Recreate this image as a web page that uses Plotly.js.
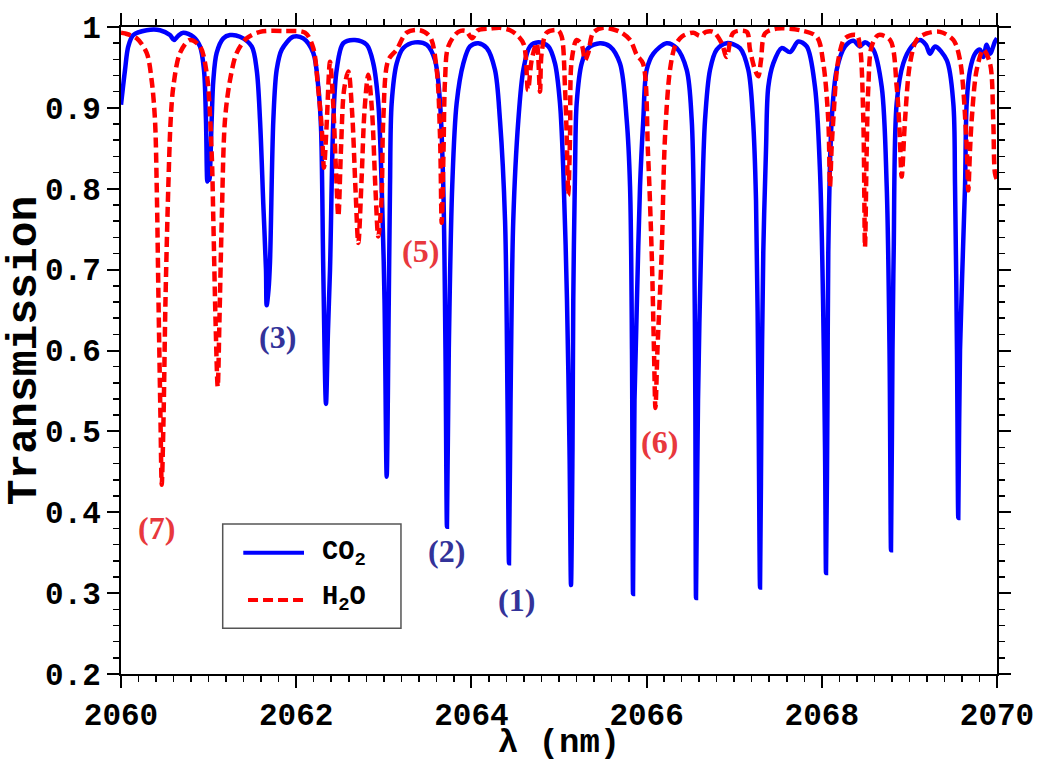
<!DOCTYPE html>
<html><head><meta charset="utf-8">
<script src="https://cdn.plot.ly/plotly-3.0.1.min.js"></script>
<style>
html,body{margin:0;padding:0;background:#fff;}
#chart{width:1037px;height:762px;}
</style>
</head><body><div id="chart"></div>
<script>
const co2_wl = [2060.000,2060.046,2060.083,2060.140,2060.293,2060.445,2060.559,2060.605,2060.651,2060.711,2060.825,2060.902,2060.947,2060.970,2060.985,2060.999,2061.010,2061.035,2061.054,2061.092,2061.168,2061.244,2061.358,2061.492,2061.549,2061.587,2061.624,2061.655,2061.663,2061.684,2061.701,2061.739,2061.777,2061.835,2061.967,2062.081,2062.195,2062.252,2062.283,2062.309,2062.340,2062.363,2062.386,2062.424,2062.462,2062.538,2062.671,2062.805,2062.880,2062.937,2062.976,2063.008,2063.033,2063.057,2063.071,2063.090,2063.147,2063.223,2063.356,2063.490,2063.584,2063.642,2063.679,2063.704,2063.721,2063.742,2063.781,2063.832,2063.908,2063.984,2064.079,2064.175,2064.269,2064.326,2064.384,2064.412,2064.429,2064.447,2064.478,2064.536,2064.593,2064.669,2064.764,2064.878,2064.954,2065.011,2065.049,2065.091,2065.120,2065.137,2065.154,2065.163,2065.183,2065.202,2065.259,2065.334,2065.468,2065.582,2065.696,2065.773,2065.811,2065.833,2065.845,2065.862,2065.890,2065.925,2065.962,2066.001,2066.077,2066.229,2066.343,2066.458,2066.515,2066.541,2066.556,2066.564,2066.587,2066.629,2066.667,2066.724,2066.800,2066.914,2067.066,2067.161,2067.215,2067.249,2067.277,2067.295,2067.312,2067.332,2067.363,2067.389,2067.446,2067.542,2067.637,2067.732,2067.828,2067.922,2067.979,2068.014,2068.037,2068.048,2068.065,2068.074,2068.113,2068.170,2068.265,2068.360,2068.436,2068.493,2068.588,2068.684,2068.741,2068.773,2068.790,2068.807,2068.821,2068.855,2068.930,2069.026,2069.121,2069.189,2069.235,2069.292,2069.426,2069.501,2069.521,2069.543,2069.558,2069.578,2069.635,2069.654,2069.692,2069.749,2069.806,2069.844,2069.882,2069.920,2069.977,2070.000];
const co2_T = [0.904,0.947,0.976,0.990,0.996,0.996,0.990,0.984,0.989,0.993,0.988,0.976,0.947,0.885,0.809,0.829,0.811,0.885,0.934,0.968,0.986,0.990,0.988,0.976,0.947,0.885,0.782,0.700,0.656,0.675,0.710,0.885,0.947,0.972,0.988,0.986,0.968,0.926,0.876,0.700,0.534,0.625,0.700,0.885,0.947,0.980,0.984,0.978,0.955,0.906,0.803,0.663,0.444,0.663,0.803,0.906,0.955,0.974,0.981,0.978,0.959,0.906,0.803,0.601,0.382,0.601,0.803,0.906,0.955,0.976,0.980,0.974,0.947,0.885,0.761,0.539,0.337,0.539,0.761,0.885,0.947,0.976,0.981,0.976,0.955,0.906,0.823,0.663,0.477,0.310,0.477,0.663,0.823,0.906,0.955,0.974,0.980,0.976,0.955,0.885,0.803,0.601,0.299,0.539,0.663,0.803,0.885,0.947,0.967,0.980,0.974,0.947,0.885,0.761,0.539,0.294,0.539,0.761,0.885,0.947,0.972,0.980,0.974,0.947,0.885,0.786,0.539,0.307,0.539,0.721,0.848,0.926,0.955,0.974,0.969,0.982,0.976,0.926,0.823,0.663,0.477,0.325,0.539,0.721,0.885,0.947,0.976,0.983,0.976,0.981,0.972,0.926,0.803,0.601,0.353,0.601,0.724,0.906,0.955,0.976,0.984,0.978,0.967,0.976,0.959,0.906,0.803,0.601,0.393,0.601,0.803,0.906,0.947,0.967,0.972,0.963,0.978,0.967,0.982,0.986];

const h2o_wl = [2060.000,2060.046,2060.179,2060.293,2060.350,2060.388,2060.408,2060.428,2060.451,2060.465,2060.485,2060.508,2060.540,2060.567,2060.597,2060.674,2060.788,2060.902,2060.978,2061.035,2061.054,2061.079,2061.104,2061.124,2061.150,2061.187,2061.244,2061.321,2061.435,2061.587,2061.872,2062.100,2062.192,2062.249,2062.291,2062.317,2062.346,2062.386,2062.420,2062.454,2062.481,2062.511,2062.546,2062.595,2062.637,2062.677,2062.709,2062.746,2062.780,2062.823,2062.865,2062.905,2062.937,2062.974,2062.994,2063.051,2063.147,2063.261,2063.413,2063.527,2063.604,2063.642,2063.661,2063.682,2063.699,2063.736,2063.851,2063.938,2064.007,2064.075,2064.212,2064.326,2064.441,2064.532,2064.600,2064.646,2064.688,2064.745,2064.783,2064.802,2064.860,2064.989,2065.031,2065.068,2065.088,2065.106,2065.126,2065.145,2065.202,2065.259,2065.297,2065.334,2065.391,2065.506,2065.696,2065.811,2065.890,2065.959,2066.016,2066.058,2066.084,2066.101,2066.124,2066.172,2066.210,2066.267,2066.324,2066.401,2066.533,2066.610,2066.678,2066.762,2066.857,2066.914,2066.990,2067.142,2067.180,2067.237,2067.275,2067.306,2067.352,2067.486,2067.751,2067.942,2068.017,2068.074,2068.094,2068.111,2068.131,2068.188,2068.265,2068.398,2068.436,2068.474,2068.493,2068.512,2068.531,2068.569,2068.645,2068.779,2068.855,2068.887,2068.912,2068.950,2069.007,2069.083,2069.197,2069.349,2069.501,2069.578,2069.654,2069.672,2069.692,2069.711,2069.768,2069.844,2069.920,2069.957,2069.977,2070.000];
const h2o_T = [0.993,0.992,0.986,0.968,0.934,0.885,0.802,0.663,0.514,0.434,0.514,0.663,0.802,0.885,0.926,0.968,0.984,0.976,0.943,0.844,0.761,0.638,0.555,0.638,0.761,0.885,0.934,0.968,0.986,0.994,0.995,0.993,0.975,0.926,0.876,0.826,0.876,0.957,0.910,0.823,0.766,0.848,0.922,0.945,0.897,0.799,0.733,0.811,0.897,0.941,0.897,0.799,0.741,0.786,0.885,0.959,0.972,0.993,0.996,0.988,0.947,0.864,0.758,0.848,0.934,0.976,0.994,0.995,0.986,0.996,0.998,0.999,0.996,0.989,0.978,0.922,0.959,0.980,0.920,0.968,0.993,0.996,0.988,0.926,0.864,0.792,0.864,0.959,0.984,0.978,0.959,0.968,0.993,0.999,0.994,0.984,0.965,0.955,0.844,0.721,0.601,0.529,0.601,0.721,0.864,0.947,0.976,0.988,0.993,0.989,0.994,0.994,0.980,0.963,0.993,0.994,0.972,0.947,0.939,0.959,0.992,0.998,0.996,0.988,0.955,0.885,0.803,0.848,0.885,0.959,0.986,0.990,0.976,0.885,0.728,0.844,0.926,0.976,0.990,0.984,0.926,0.873,0.815,0.885,0.955,0.984,0.992,0.994,0.984,0.959,0.852,0.798,0.848,0.885,0.947,0.972,0.955,0.885,0.819,0.811];

const seriesNames = ['CO<sub>2</sub>', 'H<sub>2</sub>O'];
const seriesColors = ['#0000ff', '#ff0000'];
const labelText = ['(1)', '(2)', '(3)', '(5)', '(6)', '(7)'];
const labelX = [2064.52, 2063.71, 2061.79, 2063.42, 2066.15, 2060.41];
const labelY = [0.292, 0.352, 0.617, 0.723, 0.487, 0.381];
const labelColor = ['#333399', '#333399', '#333399', '#e8383d', '#e8383d', '#e8383d'];

const monoFam = 'Liberation Mono, Courier New, monospace';
const tickFont = {family: monoFam, size: 31, color: '#000', weight: 'bold'};
const xTitleFont = {family: monoFam, size: 34, color: '#000', weight: 'bold'};
const yTitleFont = {family: monoFam, size: 43, color: '#000', weight: 'bold'};
const dashRed = '10px,5px';

const traces = [
  {x: co2_wl, y: co2_T, name: seriesNames[0], type: 'scatter', mode: 'lines', showlegend: false,
   line: {color: seriesColors[0], width: 4.5, shape: 'spline', smoothing: 0.9}},
  {x: h2o_wl, y: h2o_T, name: seriesNames[1], type: 'scatter', mode: 'lines', showlegend: false,
   line: {color: seriesColors[1], width: 4.5, dash: dashRed, shape: 'spline', smoothing: 0.9}}
];

const annotations = labelText.map((t, i) => ({
  x: labelX[i], y: labelY[i], xref: 'x', yref: 'y', text: t, showarrow: false,
  font: {family: 'Liberation Serif, Times New Roman, serif', size: 32, color: labelColor[i], weight: 'bold'}
}));
// legend entries (frame and samples drawn as shapes, names as text)
const legTextY = [0.185, 0.1155];
seriesNames.forEach((n, i) => annotations.push({
  xref: 'paper', yref: 'paper', x: 0.2272, y: legTextY[i], xanchor: 'left', yanchor: 'middle',
  text: n, showarrow: false, font: {family: monoFam, size: 27, color: '#000', weight: 'bold'}
}));

const shapes = [
  {type: 'rect', xref: 'paper', yref: 'paper', x0: 0.1161, x1: 0.3196, y0: 0.0706, y1: 0.2318,
   line: {color: '#555', width: 1.5}, fillcolor: '#fff', layer: 'above'},
  {type: 'line', xref: 'paper', yref: 'paper', x0: 0.1396, x1: 0.2089, y0: 0.1875, y1: 0.1875,
   line: {color: seriesColors[0], width: 4}, layer: 'above'},
  {type: 'line', xref: 'paper', yref: 'paper', x0: 0.145, x1: 0.2078, y0: 0.1144, y1: 0.1144,
   line: {color: seriesColors[1], width: 4, dash: dashRed}, layer: 'above'}
];

const axisCommon = {
  showline: true, linewidth: 2, linecolor: '#000', mirror: 'ticks',
  ticks: 'outside', ticklen: 12, tickwidth: 2, tickcolor: '#000',
  showgrid: false, zeroline: false, tickfont: tickFont
};

const layout = {
  width: 1037, height: 762,
  margin: {l: 121, r: 40, t: 27, b: 88},
  paper_bgcolor: '#fff', plot_bgcolor: '#fff',
  showlegend: false,
  xaxis: Object.assign({}, axisCommon, {
    range: [2060, 2070], tick0: 2060, dtick: 2,
    minor: {dtick: 0.2, ticks: 'outside', ticklen: 6, tickwidth: 1.5, tickcolor: '#000'},
    title: {text: 'λ (nm)', font: xTitleFont, standoff: 7}
  }),
  yaxis: Object.assign({}, axisCommon, {
    range: [0.2, 1.0], tick0: 0.2, dtick: 0.1,
    minor: {dtick: 0.02, ticks: 'outside', ticklen: 6, tickwidth: 1.5, tickcolor: '#000'},
    title: {text: 'Transmission', font: yTitleFont, standoff: 3}
  }),
  annotations: annotations,
  shapes: shapes
};

Plotly.newPlot('chart', traces, layout, {displayModeBar: false, staticPlot: true});
</script></body></html>
